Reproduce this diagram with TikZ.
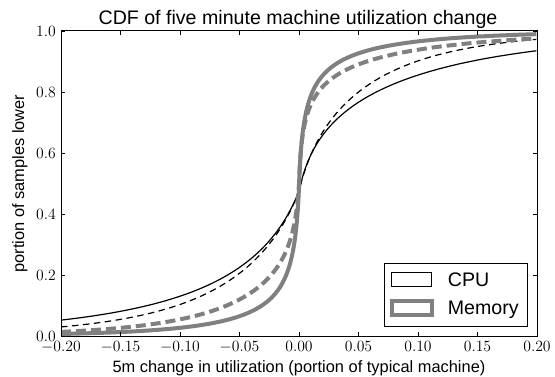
\RequirePackage{fix-cm}
\documentclass[tikz,border=0pt]{standalone}
\usepackage[no-math]{fontspec}
\newfontfamily\arialfont{Liberation Sans}
\definecolor{memgray}{RGB}{128,128,128}
\tikzset{
  cpuline/.style={black, line width=1.2pt, line join=round},
  cpudash/.style={cpuline, dash pattern=on 6.5pt off 4.5pt},
  memline/.style={memgray, line width=4pt, line join=round},
  memdash/.style={memline, dash pattern=on 10pt off 5pt},
  frameline/.style={black, line width=1pt},
  tickline/.style={black, line width=0.8pt},
  ticklab/.style={inner sep=0pt, font=\fontsize{15.7}{18}\selectfont},
  axlab/.style={inner sep=0pt, font=\arialfont\fontsize{16.4}{19}\selectfont},
  bigtext/.style={inner sep=0pt, font=\arialfont\fontsize{19.6}{23}\selectfont},
}
\begin{document}
\begin{tikzpicture}[x=1pt,y=1pt]
\useasboundingbox (0,0) rectangle (555,-377);
% curves
\begin{scope}[shift={(299pt,-336pt)},x=1190pt,y=305pt]
  \clip (-0.2,0) rectangle (0.2,1);
  % CPU solid
  \draw[cpuline] plot[domain=1:0,samples=120] ({-0.2*\x*\x},{1/(1+exp(0.1+0.668*ln(1+10*\x*\x)+1.2*\x*\x))})
    -- plot[domain=0:1,samples=120] ({0.2*\x*\x},{1/(1+exp(0.1-0.476*ln(1+28.571*\x*\x)-1.16*\x*\x))});
  % CPU dashed
  \draw[cpudash] plot[domain=1:0,samples=120] ({-0.2*\x*\x},{1/(1+exp(0.1+0.62*ln(1+10*\x*\x)+1.9*\x*\x))})
    -- plot[domain=0:1,samples=120] ({0.2*\x*\x},{1/(1+exp(0.1-0.55*ln(1+20*\x*\x)-2*\x*\x))});
  % Memory solid
  \draw[memline] plot[domain=1:0,samples=120] ({-0.2*\x*\x},{1/(1+exp(0.05+0.63*ln(1+112.36*\x*\x)+1.98*\x*\x))})
    -- plot[domain=0:1,samples=120] ({0.2*\x*\x},{1/(1+exp(0.05-0.6*ln(1+149.25*\x*\x)-1.6*\x*\x))});
  % Memory dashed
  \draw[memdash] plot[domain=1:0,samples=120] ({-0.2*\x*\x},{1/(1+exp(0.42*ln(1+113.64*\x*\x)+2.3*\x*\x))})
    -- plot[domain=0:1,samples=120] ({0.2*\x*\x},{1/(1+exp(-0.45*ln(1+200*\x*\x)-1.3*\x*\x))});
\end{scope}
% frame
\draw[frameline] (61,-31) rectangle (537,-336);
% x ticks and labels
\foreach \px/\lab [count=\i] in {61/-0.20,120.5/-0.15,180/-0.10,239.5/-0.05,299/0.00,358.5/0.05,418/0.10,477.5/0.15,537/0.20}{
  \draw[tickline] (\px,-336) -- ++(0,4);
  \draw[tickline] (\px,-31) -- ++(0,-4);
  \node (xt\i) [ticklab, anchor=north] at (\px,-341.5) {$\lab$};
}
% y ticks and labels
\foreach \py/\lab [count=\i] in {336/0.0,275/0.2,214/0.4,153/0.6,92/0.8,31/1.0}{
  \draw[tickline] (61,-\py) -- ++(4,0);
  \draw[tickline] (537,-\py) -- ++(-4,0);
  \node (yt\i) [ticklab, anchor=east] at (56,-\py) {$\lab$};
}
% labels
\node (title) [bigtext, anchor=base] at (298,-25) {CDF of five minute machine utilization change};
\node (xlabel) [axlab, anchor=base] at (299,-372.5) {5m change in utilization (portion of typical machine)};
\node (ylabel) [axlab, anchor=base, rotate=90] at (24,-183.5) {portion of samples lower};
% legend
\node (legend) [draw=black, line width=1pt, fill=white, inner sep=0pt, minimum width=143.7pt, minimum height=62.7pt] at (455.85,-295.35) {};
\node (cpuhandle) [draw=black, line width=1pt, fill=white, inner sep=0pt, minimum width=40pt, minimum height=14pt] at (411.7,-279.7) {};
\node (memhandle) [draw=memgray, line width=3.8pt, fill=white, inner sep=0pt, minimum width=40pt, minimum height=14pt] at (411.7,-308) {};
\node (cputxt) [bigtext, anchor=base west] at (447.7,-286.7) {CPU};
\node (memtxt) [bigtext, anchor=base west] at (447.7,-315) {Memory};
\end{tikzpicture}
\end{document}
